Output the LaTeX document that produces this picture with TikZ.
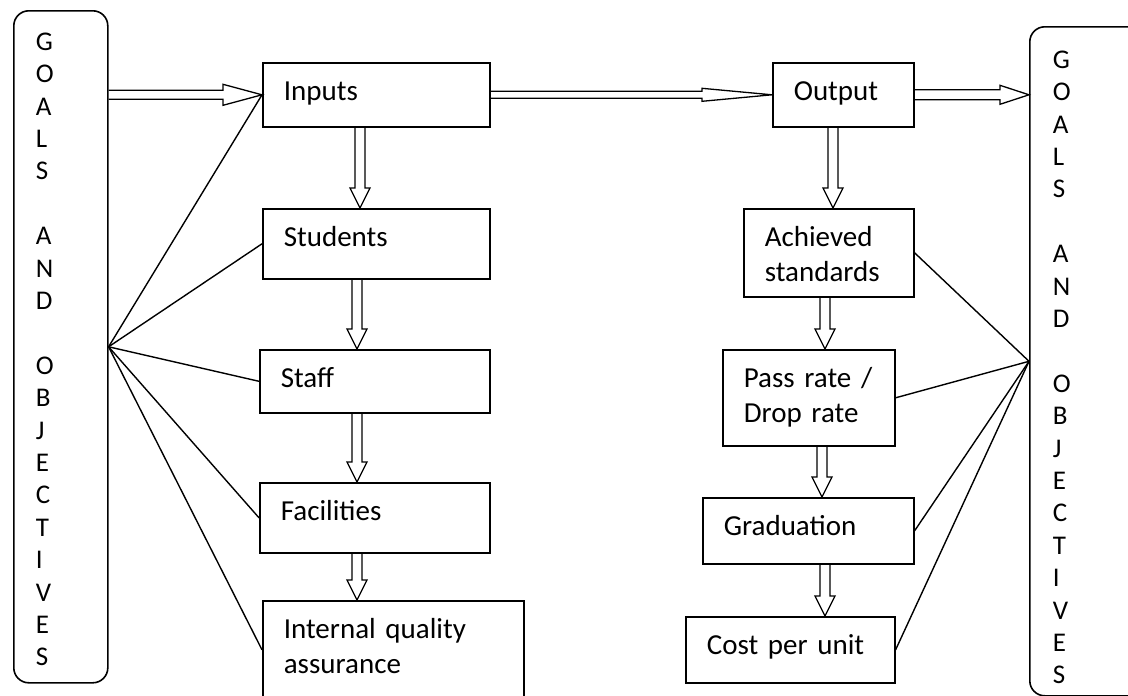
\documentclass[tikz,border=0pt]{standalone}
\usepackage{fontspec}
\setmainfont{Carlito}
\usetikzlibrary{calc}

\newcommand{\boxfont}{\fontsize{29}{35}\selectfont}
\newcommand{\goalfont}{\fontsize{27}{32.4}\selectfont}
% hollow arrow to the right: start, end, shaft half width, head half width, head length
\newcommand{\hfat}[5]{\draw[fat] let \p1=(#1), \p2=(#2) in
  (\x1,\y1+#3pt) -- (\x2-#5pt,\y1+#3pt) -- (\x2-#5pt,\y1+#4pt) -- (\x2,\y1)
  -- (\x2-#5pt,\y1-#4pt) -- (\x2-#5pt,\y1-#3pt) -- (\x1,\y1-#3pt);}
% hollow arrow downwards between two boxes, at a given x
\newcommand{\vfat}[3]{\draw[fat] let \p1=(#1.south), \p2=(#2.north) in
  (#3pt-5pt,\y1) -- (#3pt-5pt,\y2+20pt) -- (#3pt-10pt,\y2+20pt) -- (#3pt,\y2)
  -- (#3pt+10pt,\y2+20pt) -- (#3pt+5pt,\y2+20pt) -- (#3pt+5pt,\y1);}

\begin{document}
\begin{tikzpicture}[
    x=1pt, y=-1pt,
    box/.style={draw, line width=1.6pt, anchor=north west, align=left, font=\boxfont, inner xsep=21pt, inner ysep=0pt, text height=38pt},
    goals/.style={draw, line width=1.6pt, rounded corners=15pt, anchor=north west, align=left, font=\goalfont, inner ysep=0pt},
    link/.style={line width=1.4pt},
    fat/.style={line width=1.3pt, line join=miter}
]
\useasboundingbox (0,0) rectangle (1128,696);

% Goals and objectives on both sides.
\node[goals, inner xsep=22pt, text width=50pt, text height=39.5pt, text depth=632.5pt] (goalsL) at (13,10)
  {G\\O\\A\\L\\S\\[32.4pt]A\\N\\D\\[32.4pt]O\\B\\J\\E\\C\\T\\I\\V\\E\\S};
\node[goals, inner xsep=23pt, text width=84pt, text height=41.5pt, text depth=627.5pt] (goalsR) at (1029,26)
  {G\\O\\A\\L\\S\\[32.4pt]A\\N\\D\\[32.4pt]O\\B\\J\\E\\C\\T\\I\\V\\E\\S};

% Input column.
\node[box, text width=185pt, text depth=26pt] (inputs) at (262,62) {Inputs};
\node[box, text width=185pt, text depth=32pt] (students) at (262,208) {Students};
\node[box, text width=188pt, text depth=25pt] (staff) at (259,349) {Staff};
\node[box, text width=188pt, text depth=32pt] (facilities) at (259,482) {Facilities};
\node[box, text width=219pt, text depth=60pt] (internal) at (262,600) {Internal quality\\assurance};

% Output column.
\node[box, text width=99pt, text depth=26pt] (output) at (772,62) {Output};
\node[box, text width=128pt, text depth=50pt] (achieved) at (743,208) {Achieved\\standards};
\node[box, text width=130pt, text depth=58pt] (pass) at (722,349) {Pass rate /\\Drop rate};
\node[box, text width=169pt, text depth=28pt] (graduation) at (702,497) {Graduation};
\node[box, text width=167pt, text depth=28pt] (cost) at (685,616) {Cost per unit};

% Hollow arrows.
\hfat{goalsL.east |- inputs.west}{inputs.west}{4.5}{10.5}{39}
\hfat{inputs.east}{output.west}{3.5}{6.5}{70}
\hfat{output.east}{goalsR.west |- output.east}{5}{9.5}{29}
\vfat{inputs}{students}{360}
\vfat{students}{staff}{357}
\vfat{staff}{facilities}{357}
\vfat{facilities}{internal}{357}
\vfat{output}{achieved}{833}
\vfat{achieved}{pass}{825}
\vfat{pass}{graduation}{822}
\vfat{graduation}{cost}{825}

% Fan of lines from the goals.
\foreach \n in {inputs,students,staff,facilities,internal}
  \draw[link] (goalsL.east) -- (\n.west);
\foreach \n in {achieved,pass,graduation,cost}
  \draw[link] (goalsR.west) -- (\n.east);

\end{tikzpicture}
\end{document}
